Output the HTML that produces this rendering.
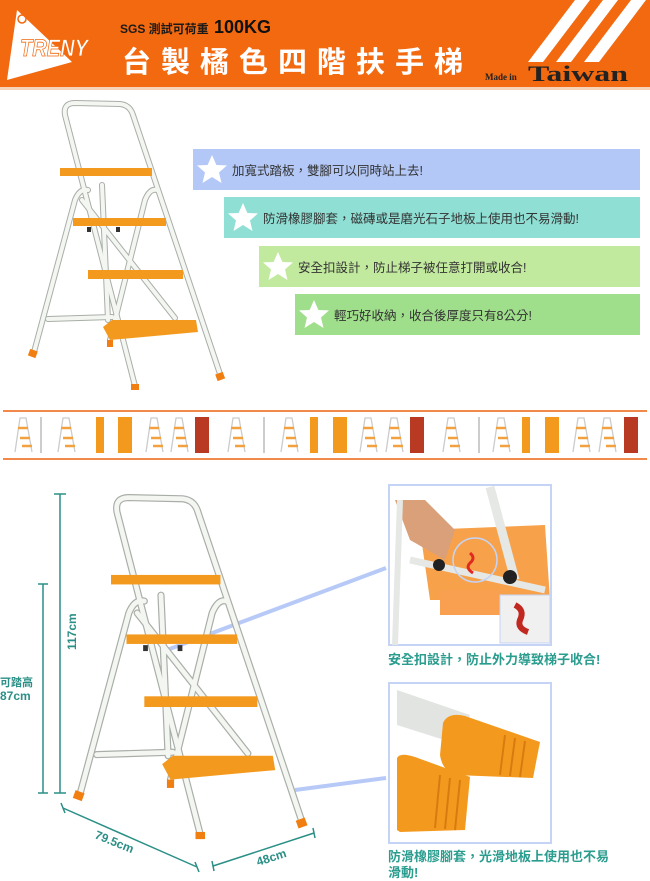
<!DOCTYPE html>
<html><head><meta charset="utf-8"><style>
html,body{margin:0;padding:0;background:#fff}
body{width:650px;height:881px;overflow:hidden;position:relative;font-family:"Liberation Sans","Noto Sans CJK TC",sans-serif}
</style></head><body>
<svg width="650" height="881" viewBox="0 0 650 881" xmlns="http://www.w3.org/2000/svg" style="position:absolute;left:0;top:0">
<defs>
<g id="tubes">
    <path d="M135,386 L65,115 Q63,103 75,103 L120,104 Q130,105 133,115 L220,374"/>
    <path d="M34,352 L75,200 Q80,188 88,190"/>
    <path d="M110,340 L145,200 Q150,188 157,190"/>
    <path d="M48,319 L112,317"/>
    <path d="M82,200 L175,318"/>
    <path d="M102,185 L108,320"/>
</g>
<g id="lad">
  <use href="#tubes" fill="none" stroke="#a9aea8" stroke-width="6" stroke-linecap="round" stroke-linejoin="round"/>
  <use href="#tubes" fill="none" stroke="#f4f6f2" stroke-width="4" stroke-linecap="round" stroke-linejoin="round"/>
  <g fill="#f39a1e">
    <rect x="60" y="168" width="92" height="8"/>
    <rect x="73" y="218" width="93" height="8"/>
    <rect x="88" y="270" width="95" height="9"/>
    <polygon points="103,327 112,320 196,320 198,332 110,340"/>
  </g>
  <g fill="#333"><rect x="87" y="227" width="4" height="5"/><rect x="116" y="227" width="4" height="5"/></g>
  <g fill="#f07e10">
    <rect x="29" y="350" width="8" height="7" transform="rotate(20 33 353)"/>
    <rect x="216" y="373" width="8" height="7" transform="rotate(-20 220 376)"/>
    <rect x="131" y="384" width="8" height="6"/>
    <rect x="107" y="340" width="6" height="7"/>
  </g>
</g>
<g id="star"><polygon fill="#fff" points="0,-15 4.4,-5 15,-4.6 7,2.5 9.5,13 0,7 -9.5,13 -7,2.5 -15,-4.6 -4.4,-5"/></g>
<g id="mini" fill="none" stroke="#ccc" stroke-width="1.3"><path d="M3,36 L8,2 L14,2 L20,36"/><g stroke="#f3a040" stroke-width="2.5"><path d="M6,12 L16,12 M8,22 L18,22 M10,30 L20,30"/></g></g>
</defs>

<!-- header -->
<rect x="0" y="0" width="650" height="87" fill="#f2690f"/>
<rect x="0" y="87" width="650" height="3" fill="#f6d2b8"/>
<polygon points="17,10 72,62 7,80" fill="#fff"/>
<circle cx="22" cy="19" r="4" fill="none" stroke="#f2690f" stroke-width="1.5"/>
<text x="20" y="56" font-size="24" font-style="italic" font-weight="bold" fill="#fff" stroke="#f2690f" stroke-width="0.8" textLength="68" lengthAdjust="spacingAndGlyphs">TRENY</text>
<text x="120" y="33" font-size="12" font-weight="bold" fill="#1a1a1a">SGS 測試可荷重</text>
<text x="214" y="33" font-size="18" font-weight="bold" fill="#111">100KG</text>
<text x="122" y="72" font-size="29" font-weight="bold" fill="#fff" letter-spacing="10">台製橘色四階扶手梯</text>
<text x="485" y="80" font-size="9" font-family="Liberation Serif,serif" font-weight="bold" fill="#222">Made in</text>
<text x="528" y="81" font-size="22" font-family="Liberation Serif,serif" font-weight="bold" fill="#222" textLength="100" lengthAdjust="spacingAndGlyphs">Taiwan</text>
<polygon points="575,0 590,0 543,62 528,62" fill="#fff"/>
<polygon points="603,0 618,0 571,62 556,62" fill="#fff"/>
<polygon points="631,0 646,0 599,62 584,62" fill="#fff"/>

<!-- top ladder -->
<use href="#lad"/>

<!-- bars -->
<rect x="193" y="149" width="447" height="41" fill="#b3c8f7"/>
<rect x="224" y="197" width="416" height="41" fill="#8fdfd4"/>
<rect x="259" y="246" width="381" height="41" fill="#c2ea9e"/>
<rect x="295" y="294" width="345" height="41" fill="#9fde8b"/>
<use href="#star" x="212" y="170"/>
<use href="#star" x="243" y="218"/>
<use href="#star" x="278" y="267"/>
<use href="#star" x="314" y="315"/>
<g font-size="12.5" fill="#333">
<text x="232" y="175">加寬式踏板，雙腳可以同時站上去!</text>
<text x="263" y="223">防滑橡膠腳套，磁磚或是磨光石子地板上使用也不易滑動!</text>
<text x="298" y="272">安全扣設計，防止梯子被任意打開或收合!</text>
<text x="334" y="320">輕巧好收納，收合後厚度只有8公分!</text>
</g>

<!-- strip -->
<rect x="3" y="410" width="644" height="2" fill="#f0894a"/>
<rect x="3" y="458" width="644" height="2" fill="#f0894a"/>
<g>
<use href="#mini" x="12" y="416"/><line x1="41" y1="417" x2="41" y2="453" stroke="#ccc" stroke-width="2"/><use href="#mini" x="55" y="416"/><rect x="96" y="417" width="8" height="36" fill="#f39a1e"/>
<rect x="118" y="417" width="14" height="36" fill="#f39a1e"/><use href="#mini" x="143" y="416"/><use href="#mini" x="168" y="416"/><rect x="195" y="417" width="14" height="36" fill="#b83a22"/>
<use href="#mini" x="225" y="416"/><line x1="264" y1="417" x2="264" y2="453" stroke="#ccc" stroke-width="2"/><use href="#mini" x="278" y="416"/><rect x="310" y="417" width="8" height="36" fill="#f39a1e"/>
<rect x="333" y="417" width="14" height="36" fill="#f39a1e"/><use href="#mini" x="357" y="416"/><use href="#mini" x="383" y="416"/><rect x="410" y="417" width="14" height="36" fill="#b83a22"/>
<use href="#mini" x="440" y="416"/><line x1="479" y1="417" x2="479" y2="453" stroke="#ccc" stroke-width="2"/><use href="#mini" x="490" y="416"/><rect x="522" y="417" width="8" height="36" fill="#f39a1e"/>
<rect x="545" y="417" width="14" height="36" fill="#f39a1e"/><use href="#mini" x="570" y="416"/><use href="#mini" x="596" y="416"/><rect x="624" y="417" width="14" height="36" fill="#b83a22"/>
</g>

<!-- connectors -->
<g stroke="#b7c9f7" stroke-width="4"><line x1="167" y1="650" x2="386" y2="568"/><line x1="295" y1="790" x2="386" y2="778"/></g>

<!-- bottom ladder -->
<use href="#lad" transform="translate(39.6,375) scale(1.19)"/>

<!-- dimensions -->
<g stroke="#2a8f86" stroke-width="1.5" fill="none">
<line x1="60" y1="494" x2="60" y2="793"/><line x1="54" y1="494" x2="66" y2="494"/><line x1="54" y1="793" x2="66" y2="793"/>
<line x1="43" y1="584" x2="43" y2="793"/><line x1="38" y1="584" x2="48" y2="584"/><line x1="38" y1="793" x2="48" y2="793"/>
<line x1="63" y1="808" x2="197" y2="867"/><line x1="61" y1="803" x2="65" y2="813"/><line x1="195" y1="862" x2="199" y2="872"/>
<line x1="213" y1="866" x2="314" y2="833"/><line x1="212" y1="861" x2="214" y2="871"/><line x1="313" y1="828" x2="315" y2="838"/>
</g>
<g font-weight="bold" fill="#2a8f86" font-size="12">
<text transform="translate(76,650) rotate(-90)">117cm</text>
<text x="0" y="686" font-size="11">可踏高</text>
<text x="0" y="700">87cm</text>
<text transform="translate(94,838) rotate(22)">79.5cm</text>
<text transform="translate(258,866) rotate(-18)">48cm</text>
</g>

<!-- photo 1 -->
<rect x="389" y="485" width="162" height="160" fill="#fff" stroke="#c5d3f5" stroke-width="2"/>
<polygon points="420,530 545,525 550,600 430,600" fill="#f7a24a"/>
<rect x="440" y="590" width="60" height="25" fill="#f8a050"/>
<path d="M395,500 L425,500 L455,530 L445,560 L410,540Z" fill="#d9a07a"/>
<line x1="410" y1="560" x2="545" y2="590" stroke="#e5e8e4" stroke-width="7"/>
<line x1="490" y1="487" x2="515" y2="580" stroke="#e5e8e4" stroke-width="9"/>
<line x1="400" y1="500" x2="395" y2="645" stroke="#e5e8e4" stroke-width="6"/>
<circle cx="439" cy="565" r="6" fill="#222"/><circle cx="510" cy="577" r="7" fill="#222"/>
<circle cx="475" cy="560" r="22" fill="none" stroke="#c5d3f5" stroke-width="1.5"/>
<rect x="500" y="595" width="50" height="48" fill="#f0f0f0" stroke="#c5d3f5"/>
<path d="M470,553 q6,5 0,10 q-5,5 3,10" stroke="#e02a20" stroke-width="3" fill="none"/>
<path d="M515,605 q10,5 5,15 q-3,8 8,12" stroke="#c02820" stroke-width="6" fill="none"/>
<text x="388" y="664" font-size="13" font-weight="bold" fill="#2a9d8f">安全扣設計，防止外力導致梯子收合!</text>

<!-- photo 2 -->
<rect x="389" y="683" width="162" height="160" fill="#fff" stroke="#c5d3f5" stroke-width="2"/>
<polygon points="397,690 470,715 460,745 397,725" fill="#e2e4e2"/>
<path d="M443,723 Q448,712 465,716 L540,742 L533,778 L455,775 Q442,770 440,755Z" fill="#f39a1e"/>
<path d="M397,758 Q400,752 415,757 L470,777 L465,830 L400,832 L397,830Z" fill="#f39a1e"/>
<g stroke="#d97a10" stroke-width="2"><line x1="505" y1="735" x2="500" y2="775"/><line x1="515" y1="738" x2="510" y2="776"/><line x1="525" y1="741" x2="520" y2="777"/><line x1="440" y1="775" x2="435" y2="828"/><line x1="450" y1="778" x2="445" y2="829"/><line x1="460" y1="780" x2="455" y2="830"/></g>
<g font-size="13" font-weight="bold" fill="#2a9d8f">
<text x="388" y="861">防滑橡膠腳套，光滑地板上使用也不易</text>
<text x="388" y="877">滑動!</text>
</g>
</svg>
</body></html>
